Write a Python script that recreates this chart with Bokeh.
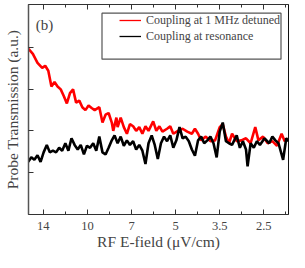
from bokeh.plotting import figure
from bokeh.models import (FixedTicker, Range1d, LinearAxis, Legend, LegendItem, Label,
                          CustomLabelingPolicy, BoxAnnotation)
from bokeh.embed import file_html
from bokeh.resources import INLINE

# x axis: equally spaced positions labelled by RF E-field (uV/cm)
tick_pos = [0, 1, 2, 3, 4, 5]
tick_labels = ["14", "10", "7", "5", "3.5", "2.5"]
minor_pos = [0.5, 1.5, 2.5, 3.5, 4.5, 5.5]
y_ticks = [1, 2, 3, 4]

red_x = [-0.337, -0.238, -0.133, -0.027, 0.042, 0.112, 0.183, 0.253, 0.322, 0.394,
         0.463, 0.533, 0.604, 0.674, 0.743, 0.815, 0.884, 0.954, 1.025, 1.095,
         1.164, 1.269, 1.341, 1.411, 1.48, 1.552, 1.585, 1.657, 1.684, 1.754,
         1.825, 1.895, 1.964, 2.036, 2.105, 2.175, 2.246, 2.316, 2.385, 2.491,
         2.562, 2.632, 2.701, 2.806, 2.878, 2.947, 3.053, 3.158, 3.263, 3.368,
         3.438, 3.509, 3.579, 3.684, 3.789, 3.895, 4.0, 4.069, 4.141, 4.211,
         4.28, 4.385, 4.491, 4.596, 4.701, 4.806, 4.878, 4.983, 5.088, 5.194,
         5.299, 5.404, 5.474, 5.537]
red_y = [3.98, 3.86, 3.64, 3.52, 3.57, 3.45, 3.07, 3.18, 3.07, 3.00,
         2.84, 2.66, 2.91, 3.00, 2.68, 2.73, 2.57, 2.50, 2.61, 2.55,
         2.50, 2.57, 2.20, 2.39, 2.43, 2.20, 2.00, 2.32, 2.09, 2.32,
         2.09, 1.93, 2.16, 2.11, 2.00, 2.09, 1.93, 2.11, 2.00, 2.23,
         2.00, 2.11, 1.98, 2.05, 2.11, 1.93, 2.00, 2.05, 1.98, 1.93,
         2.05, 1.93, 1.77, 1.86, 1.75, 1.77, 2.09, 2.16, 1.86, 1.70,
         1.93, 1.75, 1.77, 1.82, 1.70, 2.09, 1.77, 1.86, 1.70, 1.75,
         1.64, 1.93, 1.75, 1.82]

black_x = [-0.343, -0.274, -0.204, -0.133, -0.063, 0.006, 0.078, 0.147, 0.217, 0.288,
           0.358, 0.427, 0.499, 0.568, 0.638, 0.709, 0.779, 0.848, 0.92, 0.989,
           1.059, 1.131, 1.2, 1.269, 1.341, 1.411, 1.48, 1.543, 1.615, 1.684,
           1.754, 1.825, 1.895, 1.964, 2.036, 2.105, 2.175, 2.246, 2.316, 2.385,
           2.457, 2.526, 2.596, 2.667, 2.737, 2.806, 2.878, 2.947, 3.017, 3.088,
           3.158, 3.227, 3.299, 3.368, 3.438, 3.509, 3.579, 3.648, 3.72, 3.789,
           3.859, 3.931, 4.0, 4.069, 4.141, 4.211, 4.28, 4.385, 4.457, 4.526,
           4.596, 4.632, 4.701, 4.773, 4.842, 4.912, 5.017, 5.122, 5.194, 5.263,
           5.333, 5.438, 5.509, 5.56]
black_y = [1.25, 1.36, 1.30, 1.41, 1.25, 1.48, 1.66, 1.48, 1.52, 1.48,
           1.59, 1.52, 1.70, 1.52, 1.82, 1.66, 1.55, 1.66, 1.43, 1.64,
           1.59, 1.70, 1.52, 1.86, 1.48, 1.43, 1.59, 1.75, 1.89, 1.70,
           1.86, 1.64, 1.77, 1.66, 1.75, 1.55, 1.66, 1.52, 1.20, 1.70,
           1.89, 1.66, 1.32, 1.70, 1.86, 1.75, 1.89, 1.59, 1.77, 2.09,
           1.82, 1.86, 1.75, 1.55, 1.40, 1.77, 1.86, 1.70, 1.77, 1.86,
           1.70, 1.36, 1.98, 2.20, 1.75, 1.70, 1.66, 1.89, 1.59, 1.75,
           1.55, 1.14, 1.70, 1.59, 1.75, 1.66, 1.82, 1.70, 1.86, 1.77,
           1.70, 1.30, 1.82, 1.75]

FONT = "Liberation Serif"

p = figure(width=289, height=252, output_backend="svg", toolbar_location=None,
           x_range=Range1d(-0.337, 5.56), y_range=Range1d(-0.02, 5.05),
           x_axis_location=None, y_axis_location=None)
p.min_border_left = 0
p.min_border_right = 1
p.min_border_top = 2
p.min_border_bottom = 0
p.grid.visible = False
p.outline_line_color = "#111111"
p.outline_line_width = 1
p.background_fill_color = "white"
p.border_fill_color = "white"

xt = FixedTicker(ticks=tick_pos, minor_ticks=minor_pos)
yt = FixedTicker(ticks=y_ticks, minor_ticks=[])

HIDE = """
const all = [...indices];
for (const i of all) { indices.unset(i) }
return indices
"""


def style(ax, show_labels):
    ax.major_tick_in = 5
    ax.major_tick_out = 0
    ax.minor_tick_in = 3
    ax.minor_tick_out = 0
    ax.axis_line_color = "#333333"
    ax.major_tick_line_color = "#333333"
    ax.minor_tick_line_color = "#333333"
    if not show_labels:
        ax.major_label_policy = CustomLabelingPolicy(code=HIDE)
        ax.major_label_standoff = 0
        ax.major_label_text_font_size = "1px"


xb = LinearAxis(ticker=xt, axis_label="RF E-field (\u03bcV/cm)")
style(xb, True)
xb.major_label_overrides = {t: l for t, l in zip(tick_pos, tick_labels)}
xb.major_label_text_font = FONT
xb.major_label_text_font_size = "12.5px"
xb.major_label_standoff = 7
xb.axis_label_text_font = FONT
xb.axis_label_text_font_size = "15.5px"
xb.axis_label_text_font_style = "normal"
xb.axis_label_standoff = 0
p.add_layout(xb, "below")

xa = LinearAxis(ticker=xt)
style(xa, False)
p.add_layout(xa, "above")

yl = LinearAxis(ticker=yt, axis_label="Probe Transmission (a.u.)")
style(yl, False)
yl.axis_line_width = 1.5
yl.axis_line_color = "#555555"
yl.axis_label_text_font = FONT
yl.axis_label_text_font_size = "15.5px"
yl.axis_label_text_font_style = "normal"
yl.axis_label_standoff = 4
p.add_layout(yl, "left")

p.line(red_x, red_y, line_color="#ff0000", line_width=2.6)
p.line(black_x, black_y, line_color="#000000", line_width=2.6)

# frame drawn around the legend
p.add_layout(BoxAnnotation(left=1.33, right=5.39, bottom=3.73, top=4.84,
                           fill_color="white", fill_alpha=1,
                           line_color="#555555", line_alpha=1, line_width=1.2))

# one-point lines: invisible in the plot, thin samples in the legend
leg_r = p.line(red_x[:1], red_y[:1], line_color="#ff0000", line_width=1.3)
leg_b = p.line(black_x[:1], black_y[:1], line_color="#000000", line_width=1.3)
legend = Legend(items=[LegendItem(label="Coupling at 1 MHz detuned", renderers=[leg_r]),
                       LegendItem(label="Coupling at resonance", renderers=[leg_b])],
                location="top_right")
legend.margin = 8
legend.padding = 6
legend.spacing = 0
legend.glyph_width = 22
legend.glyph_height = 16
legend.label_height = 16
legend.label_standoff = 5
legend.label_text_font = FONT
legend.label_text_font_size = "12px"
legend.border_line_color = None
legend.background_fill_alpha = 0
p.add_layout(legend)

p.add_layout(Label(x=-0.17, y=4.55, text="(b)", text_font=FONT, text_font_size="15px",
                   text_baseline="middle", text_align="left"))

open("out.html", "w").write(file_html(p, INLINE))
